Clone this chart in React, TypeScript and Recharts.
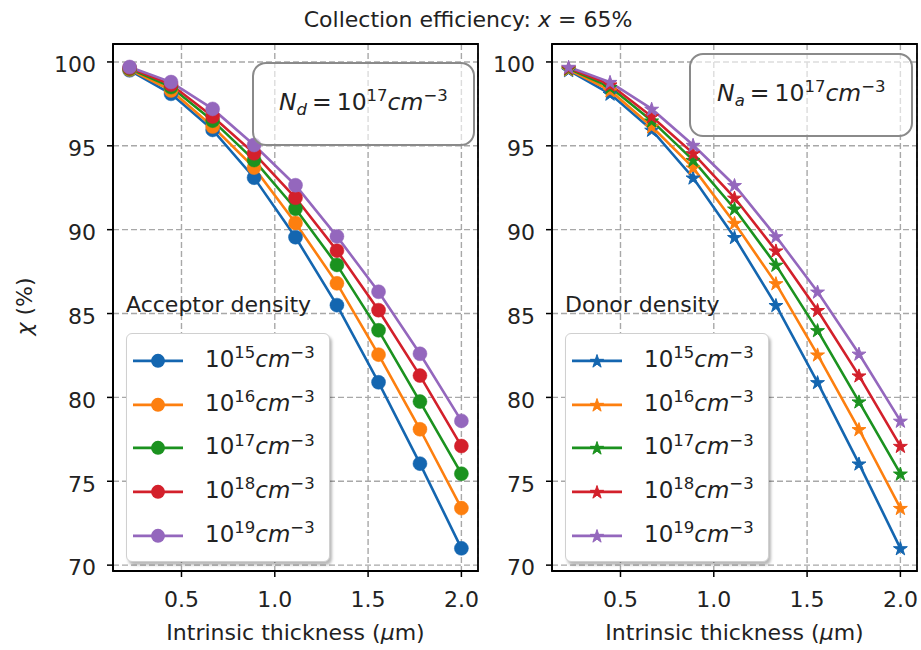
import React from 'react';
import { LineChart, Line, XAxis, YAxis, CartesianGrid, Legend, ReferenceArea } from 'recharts';

// Intrinsic thickness (µm)
const thickness = [0.222, 0.444, 0.667, 0.889, 1.111, 1.333, 1.556, 1.778, 2.0];
// Collection efficiency chi (%) per doping density (same curves in both panels)
const chi15 = [99.5, 98.1, 95.95, 93.1, 89.55, 85.5, 80.9, 76.05, 71.0];
const chi16 = [99.55, 98.3, 96.15, 93.7, 90.4, 86.8, 82.55, 78.1, 73.4];
const chi17 = [99.6, 98.5, 96.5, 94.15, 91.25, 87.9, 84.0, 79.75, 75.45];
const chi18 = [99.65, 98.65, 96.75, 94.55, 91.9, 88.75, 85.2, 81.3, 77.1];
const chi19 = [99.7, 98.8, 97.2, 95.05, 92.65, 89.6, 86.3, 82.6, 78.6];
const exponents = ['15', '16', '17', '18', '19'];
const seriesColors = ['#1466b0', '#fd7f0f', '#1b921f', '#d3202b', '#9467bd'];
const xTicks = [0.5, 1.0, 1.5, 2.0];
const yTicks = [70, 75, 80, 85, 90, 95, 100];
const xDomain: [number, number] = [0.133, 2.089];
const yDomain: [number, number] = [69.65, 101.07];

const allSeries = [chi15, chi16, chi17, chi18, chi19];
const rows = thickness.map((t, i) => {
  const r: any = { t };
  allSeries.forEach((s, k) => {
    r['s' + exponents[k]] = s[i];
  });
  return r;
});

const FONT = 'DejaVu Sans';
const TEXT = '#222';

function starPoints(cx: number, cy: number, R: number) {
  const pts: string[] = [];
  for (let k = 0; k < 10; k++) {
    const r = k % 2 === 0 ? R : R * 0.382;
    const a = -Math.PI / 2 + (k * Math.PI) / 5;
    pts.push(`${cx + r * Math.cos(a)},${cy + r * Math.sin(a)}`);
  }
  return pts.join(' ');
}

const Sup = ({ children }: any) => (
  <span style={{ fontSize: 16.5, position: 'relative', top: -8.5 }}>{children}</span>
);

const Density = ({ exp }: { exp: string }) => (
  <span style={{ whiteSpace: 'nowrap' }}>
    10<Sup>{exp}</Sup>
    <i>cm</i>
    <Sup>−3</Sup>
  </span>
);

const makeLegend = (title: string, marker: 'circle' | 'star') => (props: any) => {
  const payload = props.payload || [];
  return (
    <div style={{ position: 'relative', width: 210, height: 275, fontFamily: FONT }}>
      <div
        style={{
          position: 'absolute',
          left: 0,
          top: 4.4,
          fontSize: 22,
          lineHeight: '22px',
          color: TEXT,
          whiteSpace: 'nowrap',
        }}
      >
        {title}
      </div>
      <div
        style={{
          position: 'absolute',
          left: 0,
          top: 43,
          width: 204,
          height: 229,
          border: '1.5px solid #d0d0d0',
          borderRadius: 6,
          boxShadow: '2px 3px 3px rgba(0,0,0,0.28)',
          background: '#fff',
          boxSizing: 'border-box',
          paddingTop: 5,
        }}
      >
        {payload.map((p: any, i: number) => (
          <div key={i} style={{ display: 'flex', alignItems: 'center', height: 43.7 }}>
            <svg width={78} height={43.7} style={{ flex: 'none' }}>
              <line x1={6} x2={56} y1={21.85} y2={21.85} stroke={p.color} strokeWidth={2.6} />
              {marker === 'circle' ? (
                <circle cx={31} cy={21.85} r={7} fill={p.color} />
              ) : (
                <polygon points={starPoints(31, 22.5, 7)} fill={p.color} stroke={p.color} strokeWidth={1} />
              )}
            </svg>
            <span style={{ fontSize: 23, color: TEXT, position: 'relative', top: -2 }}>
              <Density exp={p.value} />
            </span>
          </div>
        ))}
      </div>
    </div>
  );
};

const XLabel = (props: any) => {
  const vb = props.viewBox || {};
  return (
    <text
      x={vb.x + vb.width / 2}
      y={vb.y + 69}
      textAnchor="middle"
      fontSize={22}
      fill={TEXT}
      fontFamily={FONT}
    >
      Intrinsic thickness (<tspan fontStyle="italic">μ</tspan>m)
    </text>
  );
};

const YLabel = (props: any) => {
  const vb = props.viewBox || {};
  const x0 = vb.x - 21;
  const yc = vb.y + vb.height / 2 - 1;
  return (
    <text
      x={x0}
      y={yc}
      textAnchor="middle"
      fontSize={22}
      fill={TEXT}
      fontFamily={FONT}
      transform={`rotate(-90, ${x0}, ${yc})`}
    >
      <tspan fontStyle="italic">χ</tspan> (%)
    </text>
  );
};

type PanelProps = {
  width: number;
  marginLeft: number;
  marginRight: number;
  marker: 'circle' | 'star';
  legendTitle: string;
  legendLeft: number;
  showYLabel: boolean;
};

function Panel({ width, marginLeft, marginRight, marker, legendTitle, legendLeft, showYLabel }: PanelProps) {
  return (
    <LineChart
      width={width}
      height={650}
      data={rows}
      margin={{ top: 44, right: marginRight, bottom: 49, left: marginLeft }}
      style={{ fontFamily: FONT }}
    >
      <CartesianGrid stroke="#a8a8a8" strokeDasharray="6 3" strokeWidth={1.4} />
      <XAxis
        dataKey="t"
        type="number"
        domain={xDomain}
        allowDataOverflow
        ticks={xTicks}
        tickFormatter={(v: number) => v.toFixed(1)}
        height={30}
        tickSize={6}
        tickMargin={14}
        tick={{ fontSize: 22, fill: TEXT }}
        tickLine={{ stroke: '#000', strokeWidth: 1.5 }}
        axisLine={{ stroke: '#000', strokeWidth: 1.8 }}
        label={<XLabel />}
      />
      <YAxis
        type="number"
        domain={yDomain}
        allowDataOverflow
        ticks={yTicks}
        width={60}
        tickSize={6}
        tickMargin={11}
        tick={{ fontSize: 22, fill: TEXT, dy: 2.5 }}
        tickLine={{ stroke: '#000', strokeWidth: 1.5 }}
        axisLine={{ stroke: '#000', strokeWidth: 1.8 }}
        label={showYLabel ? <YLabel /> : undefined}
      />
      <ReferenceArea
        x1={xDomain[0]}
        x2={xDomain[1]}
        y1={yDomain[0]}
        y2={yDomain[1]}
        fill="none"
        fillOpacity={0}
        stroke="#000"
        strokeWidth={1.8}
        ifOverflow="visible"
      />
      {exponents.map((e, k) => (
        <Line
          key={e}
          dataKey={'s' + e}
          name={e}
          stroke={seriesColors[k]}
          strokeWidth={2.6}
          isAnimationActive={false}
          activeDot={false}
          dot={
            marker === 'circle'
              ? { r: 7, fill: seriesColors[k], stroke: seriesColors[k], strokeWidth: 0.5 }
              : (p: any) =>
                  p.cx == null ? (
                    <g key={p.index} />
                  ) : (
                    <polygon
                      key={p.index}
                      points={starPoints(p.cx, p.cy + 0.6, 7.3)}
                      fill={seriesColors[k]}
                      stroke={seriesColors[k]}
                      strokeWidth={1}
                    />
                  )
          }
        />
      ))}
      <Legend
        layout="horizontal"
        verticalAlign="middle"
        align="center"
        content={makeLegend(legendTitle, marker)}
        wrapperStyle={{ position: 'absolute', left: legendLeft, top: 290, width: 210, height: 275 }}
      />
    </LineChart>
  );
}

const AnnotBox = ({ left, top, width, height, sub }: any) => (
  <div
    style={{
      position: 'absolute',
      left,
      top,
      width,
      height,
      border: '2px solid #8a8a8a',
      borderRadius: 14,
      boxSizing: 'border-box',
      display: 'flex',
      alignItems: 'center',
      justifyContent: 'center',
      fontSize: 23.5,
      color: TEXT,
      background: 'rgba(255,255,255,0.6)',
    }}
  >
    <span style={{ whiteSpace: 'nowrap', position: 'relative', top: -2 }}>
      <i>N</i>
      <i style={{ fontSize: 16.5, position: 'relative', top: 5 }}>{sub}</i>
      <span style={{ margin: '0 5px' }}>=</span>
      10<Sup>17</Sup>
      <i>cm</i>
      <Sup>−3</Sup>
    </span>
  </div>
);

export default function App() {
  return (
    <div
      style={{
        position: 'absolute',
        left: 0,
        top: 0,
        width: 921,
        height: 650,
        background: '#fff',
        fontFamily: FONT,
        overflow: 'hidden',
      }}
    >
      <div
        style={{
          position: 'absolute',
          left: 268,
          top: 9.4,
          width: 400,
          textAlign: 'center',
          fontSize: 22,
          lineHeight: '22px',
          color: TEXT,
          whiteSpace: 'nowrap',
        }}
      >
        Collection efficiency: <i>x</i> = 65%
      </div>
      <div style={{ position: 'absolute', left: 0, top: 0 }}>
        <Panel
          width={480}
          marginLeft={53}
          marginRight={2}
          marker="circle"
          legendTitle="Acceptor density"
          legendLeft={126}
          showYLabel
        />
      </div>
      <div style={{ position: 'absolute', left: 480, top: 0 }}>
        <Panel
          width={441}
          marginLeft={12}
          marginRight={4}
          marker="star"
          legendTitle="Donor density"
          legendLeft={85}
          showYLabel={false}
        />
      </div>
      <AnnotBox left={251.7} top={61.7} width={223.3} height={84.3} sub="d" />
      <AnnotBox left={689.3} top={53.3} width={224} height={83.4} sub="a" />
    </div>
  );
}
